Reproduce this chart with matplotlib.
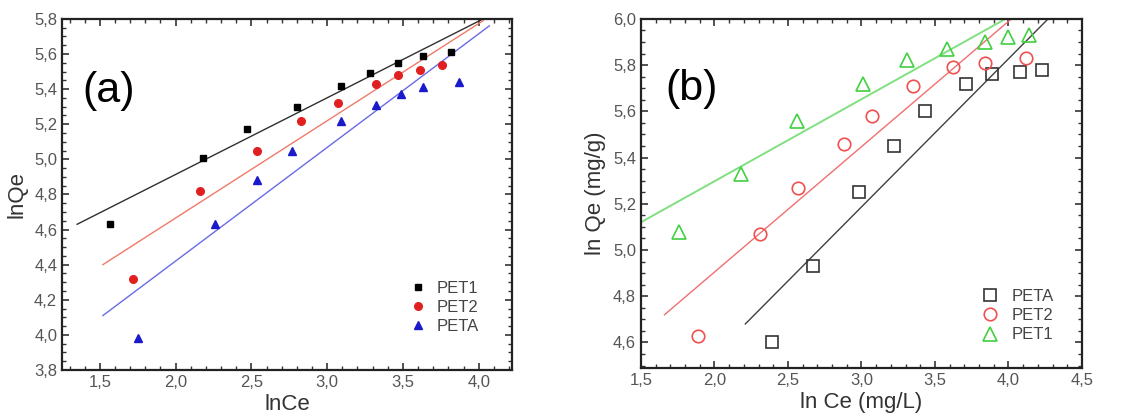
import numpy as np
import matplotlib
matplotlib.use("Agg")
import matplotlib.pyplot as plt
from matplotlib.ticker import MultipleLocator, FuncFormatter

plt.rcParams['font.family'] = ['Liberation Sans', 'DejaVu Sans']

# ---- panel (a) data ----
a_pet1_x = [1.57, 2.18, 2.47, 2.80, 3.09, 3.28, 3.47, 3.63, 3.82]
a_pet1_y = [4.63, 5.01, 5.17, 5.30, 5.42, 5.49, 5.55, 5.59, 5.61]
a_pet2_x = [1.72, 2.16, 2.54, 2.83, 3.07, 3.32, 3.47, 3.61, 3.76]
a_pet2_y = [4.32, 4.82, 5.05, 5.22, 5.32, 5.43, 5.48, 5.51, 5.54]
a_peta_x = [1.75, 2.26, 2.54, 2.77, 3.09, 3.32, 3.49, 3.63, 3.87]
a_peta_y = [3.98, 4.63, 4.88, 5.05, 5.22, 5.31, 5.37, 5.41, 5.44]
# fitted lines (end points)
a_fit1_x, a_fit1_y = [1.35, 4.03], [4.63, 5.80]
a_fit2_x, a_fit2_y = [1.52, 4.03], [4.40, 5.79]
a_fitA_x, a_fitA_y = [1.52, 4.07], [4.11, 5.76]

# ---- panel (b) data ----
b_peta_x = [2.39, 2.67, 2.98, 3.22, 3.43, 3.71, 3.89, 4.08, 4.23]
b_peta_y = [4.60, 4.93, 5.25, 5.45, 5.60, 5.72, 5.76, 5.77, 5.78]
b_pet2_x = [1.89, 2.31, 2.57, 2.88, 3.07, 3.35, 3.62, 3.84, 4.12]
b_pet2_y = [4.63, 5.07, 5.27, 5.46, 5.58, 5.71, 5.79, 5.81, 5.83]
b_pet1_x = [1.76, 2.18, 2.56, 3.01, 3.31, 3.58, 3.84, 4.00, 4.14]
b_pet1_y = [5.08, 5.33, 5.56, 5.72, 5.82, 5.87, 5.90, 5.92, 5.93]
b_fitA_x, b_fitA_y = [2.21, 4.27], [4.68, 6.00]
b_fit2_x, b_fit2_y = [1.66, 4.02], [4.72, 6.00]
b_fit1_x, b_fit1_y = [1.50, 3.98], [5.12, 6.00]

comma = FuncFormatter(lambda v, p: ("%.1f" % v).replace(".", ","))


def style_axes(ax, xmaj, xmin, ymaj, ymin):
    ax.xaxis.set_major_locator(MultipleLocator(xmaj))
    ax.xaxis.set_minor_locator(MultipleLocator(xmin))
    ax.yaxis.set_major_locator(MultipleLocator(ymaj))
    ax.yaxis.set_minor_locator(MultipleLocator(ymin))
    ax.xaxis.set_major_formatter(comma)
    ax.yaxis.set_major_formatter(comma)
    ax.tick_params(which="both", direction="in", top=True, right=True,
                   colors="#333333", labelcolor="#555555", labelsize=12)
    ax.tick_params(which="major", length=5, width=1.2)
    ax.tick_params(which="minor", length=3, width=1)
    for s in ax.spines.values():
        s.set_linewidth(1.6)
        s.set_color("#222222")


fig = plt.figure(figsize=(11.46, 4.19), dpi=100)

# ---- (a) ----
ax1 = fig.add_axes([0.0541, 0.117, 0.3927, 0.838])
ax1.plot(a_fit1_x, a_fit1_y, color="#303030", lw=1)
ax1.plot(a_fit2_x, a_fit2_y, color="#f07a68", lw=1)
ax1.plot(a_fitA_x, a_fitA_y, color="#6a6ae8", lw=1)
ax1.plot(a_pet1_x, a_pet1_y, "s", color="black", ms=5, ls="none", label="PET1")
ax1.plot(a_pet2_x, a_pet2_y, "o", color="#e02020", ms=5.5, ls="none", label="PET2")
ax1.plot(a_peta_x, a_peta_y, "^", color="#1a1acc", ms=5.5, ls="none", label="PETA")
ax1.set_xlim(1.25, 4.22)
ax1.set_ylim(3.8, 5.8)
style_axes(ax1, 0.5, 0.1, 0.2, 0.05)
ax1.set_xlabel("lnCe", fontsize=16, color="#333333", labelpad=3)
ax1.set_ylabel("lnQe", fontsize=16, color="#333333", labelpad=5)
ax1.text(0.045, 0.795, "(a)", transform=ax1.transAxes, fontsize=31, va="center")
ax1.legend(loc="lower right", frameon=False, fontsize=12, handlelength=1.2,
           handletextpad=0.5, labelspacing=0.25, bbox_to_anchor=(0.96, 0.06),
           labelcolor="#444444")

# ---- (b) ----
ax2 = fig.add_axes([0.5593, 0.122, 0.3848, 0.833])
ax2.plot(b_fitA_x, b_fitA_y, color="#404040", lw=1)
ax2.plot(b_fit2_x, b_fit2_y, color="#f07070", lw=1)
ax2.plot(b_fit1_x, b_fit1_y, color="#80e080", lw=1.4)
ax2.plot(b_peta_x, b_peta_y, "s", mfc="none", mec="#333333", ms=8, mew=1.2,
         ls="none", label="PETA")
ax2.plot(b_pet2_x, b_pet2_y, "o", mfc="none", mec="#f05050", ms=9, mew=1.2,
         ls="none", label="PET2")
ax2.plot(b_pet1_x, b_pet1_y, "^", mfc="none", mec="#40d040", ms=10, mew=1.2,
         ls="none", label="PET1")
ax2.set_xlim(1.5, 4.5)
ax2.set_ylim(4.49, 6.0)
style_axes(ax2, 0.5, 0.1, 0.2, 0.05)
ax2.set_xlabel("ln Ce (mg/L)", fontsize=16, color="#333333", labelpad=3)
ax2.set_ylabel("ln Qe (mg/g)", fontsize=16, color="#333333", labelpad=5)
ax2.text(0.055, 0.80, "(b)", transform=ax2.transAxes, fontsize=31, va="center")
ax2.legend(loc="lower right", frameon=False, fontsize=12, handlelength=1.2,
           handletextpad=0.7, labelspacing=0.25, bbox_to_anchor=(0.97, 0.03),
           labelcolor="#444444")

fig.savefig("out.png", dpi=100)
